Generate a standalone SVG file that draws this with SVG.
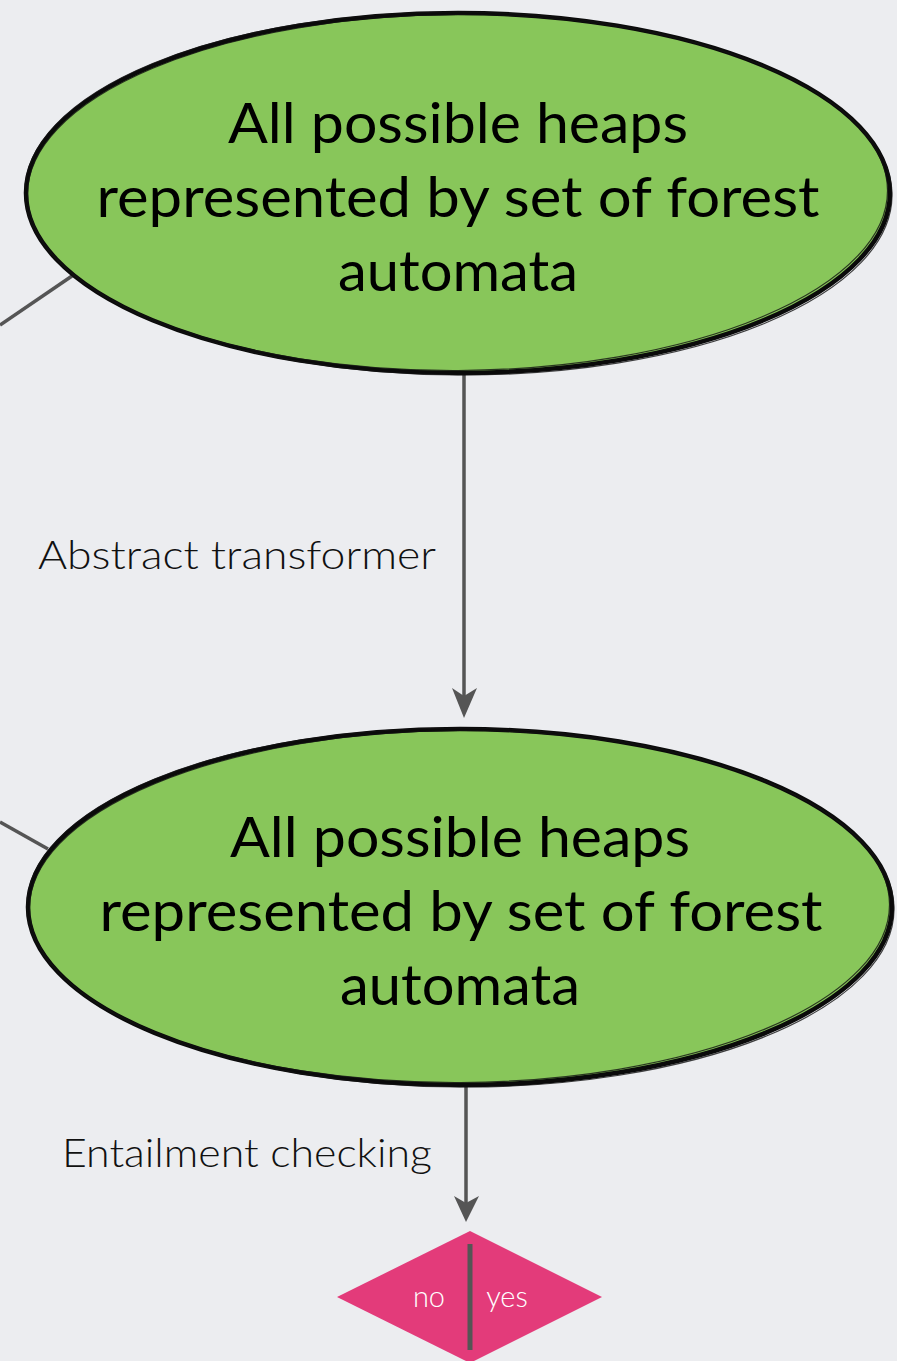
<svg xmlns="http://www.w3.org/2000/svg" width="897" height="1361" viewBox="0 0 897 1361">
  <style>
    .bg { fill: #ECEDF0; }
    .blob { fill: #88C65A; }
    .ink { fill: none; stroke: #0A0A0A; stroke-width: 4.5; }
    .ink-thin { fill: none; stroke: #111; stroke-width: 1.2; opacity: 0.8; }
    .title { font-family: "Lato", "Liberation Sans", sans-serif; font-size: 56px; fill: #000; text-anchor: middle; }
    .edge { stroke: #555; stroke-width: 3.5; fill: none; }
    .label { font-family: "Lato", "Liberation Sans", sans-serif; font-weight: 300; font-size: 40px; fill: #111; }
    .choice { font-family: "Lato", "Liberation Sans", sans-serif; font-weight: 300; font-size: 29px; fill: #fff; text-anchor: middle; }
  </style>

  <rect class="bg" x="0" y="0" width="897" height="1361"/>

  <!-- connectors -->
  <g id="connectors">
    <line class="edge" x1="0" y1="325" x2="72" y2="276"/>
    <line class="edge" x1="0" y1="822" x2="48" y2="849"/>
    <line class="edge" x1="464" y1="362" x2="464" y2="700"/>
    <path d="M452,688 L464,718 L477,688 L464,696 Z" fill="#555"/>
    <line class="edge" x1="466" y1="1078" x2="466" y2="1205"/>
    <path d="M454,1196 L466,1222 L479,1196 L466,1203 Z" fill="#555"/>
    <text class="label" x="38" y="569" textLength="398" lengthAdjust="spacingAndGlyphs">Abstract transformer</text>
    <text class="label" x="62" y="1167" textLength="370" lengthAdjust="spacingAndGlyphs">Entailment checking</text>
  </g>

  <!-- upper state set -->
  <g id="heaps-before">
    <ellipse class="blob" cx="458" cy="193" rx="432" ry="180"/>
    <ellipse class="ink" cx="458" cy="193" rx="432" ry="180"/>
    <ellipse class="ink-thin" cx="457.5" cy="192.5" rx="430" ry="178" transform="rotate(-0.3 457 192)"/>
    <ellipse class="ink-thin" cx="458.5" cy="193.5" rx="433.5" ry="181.5" transform="rotate(0.3 459 194)"/>
    <text class="title" x="458" y="143" textLength="460" lengthAdjust="spacingAndGlyphs">All possible heaps</text>
    <text class="title" x="458" y="217" textLength="723" lengthAdjust="spacingAndGlyphs">represented by set of forest</text>
    <text class="title" x="458" y="291" textLength="240" lengthAdjust="spacingAndGlyphs">automata</text>
  </g>

  <!-- lower state set -->
  <g id="heaps-after">
    <ellipse class="blob" cx="460" cy="907" rx="432" ry="178"/>
    <ellipse class="ink" cx="460" cy="907" rx="432" ry="178"/>
    <ellipse class="ink-thin" cx="459.5" cy="906.5" rx="430" ry="176" transform="rotate(-0.3 459 906)"/>
    <ellipse class="ink-thin" cx="460.5" cy="907.5" rx="433.5" ry="179.5" transform="rotate(0.3 461 908)"/>
    <text class="title" x="460" y="857" textLength="460" lengthAdjust="spacingAndGlyphs">All possible heaps</text>
    <text class="title" x="461" y="931" textLength="723" lengthAdjust="spacingAndGlyphs">represented by set of forest</text>
    <text class="title" x="460" y="1005" textLength="240" lengthAdjust="spacingAndGlyphs">automata</text>
  </g>

  <!-- decision -->
  <g id="decision">
    <polygon points="337,1297 470,1231 602,1297 470,1363" fill="#E33B7A"/>
    <line x1="470" y1="1244" x2="470" y2="1350" stroke="#555" stroke-width="5"/>
    <text class="choice" x="429" y="1307">no</text>
    <text class="choice" x="507" y="1307">yes</text>
  </g>
</svg>
